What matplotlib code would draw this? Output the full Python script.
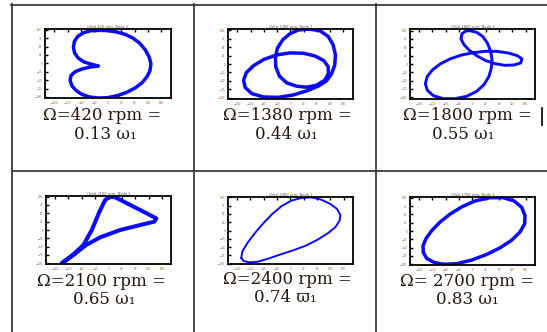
import numpy as np
import matplotlib
matplotlib.use("Agg")
import matplotlib.pyplot as plt
from matplotlib.lines import Line2D
from matplotlib.ticker import MaxNLocator

# Orbit traces (arbitrary displacement units, centred on 0)
orbit_420_x = [-23, 2, 27, 52, 75, 95, 112, 124, 129, 126, 117, 102, 82, 57, 29, -1, -28,
               -55, -78, -96, -108, -113, -110, -98, -78, -53, -28, -48, -71, -88, -99,
               -103, -100, -90, -73, -51, -23]
orbit_420_y = [98, 97, 93, 86, 75, 60, 40, 18, -2, -22, -40, -58, -73, -86, -96, -102, -103,
               -100, -92, -80, -66, -50, -36, -25, -17, -11, -8, -3, 4, 15, 30,
               47, 65, 80, 91, 97, 98]

orbit_1380_x = [54, 89, 114, 129, 136, 134, 124, 109, 84, 49, 9, -36, -81, -116, -136, -141,
                -133, -111, -79, -41, -1, 39, 74, 101, 114, 115, 104, 79, 49, 19, -11, -33,
                -44, -45, -39, -23, -1, 24, 54]
orbit_1380_y = [104, 99, 82, 57, 27, -3, -30, -50, -66, -80, -92, -99, -98, -88, -70, -48,
                -26, -5, 14, 27, 33, 32, 24, 10, -8, -28, -48, -63, -69, -66, -56, -36,
                -8, 20, 47, 72, 90, 101, 104]

orbit_1800_x = [-7, 13, 31, 45, 55, 59, 57, 50, 35, 13, -17, -52, -87, -117, -135, -141,
                -135, -119, -95, -65, -32, 3, 38, 73, 108, 135, 149, 145, 125, 98, 68, 38,
                13, -9, -25, -34, -31, -19, -7]
orbit_1800_y = [100, 95, 83, 63, 38, 13, -12, -37, -62, -82, -97, -104, -104, -95, -79, -59,
                -37, -17, 1, 16, 27, 34, 38, 38, 33, 25, 15, 3, -3, -4, 1, 11,
                25, 41, 58, 75, 91, 99, 100]

orbit_2100_x = [-140, -105, -75, -50, -27, -10, 5, 20, 75, 120, 143, 137, 95, 35, -25, -67,
                -105, -137, -140]
orbit_2100_y = [-100, -73, -45, 0, 55, 90, 100, 98, 70, 47, 35, 25, 15, 0, -22, -45,
                -75, -98, -100]

orbit_2400_x = [-147, -140, -124, -97, -67, -32, 8, 48, 83, 113, 135, 148, 150, 140, 120, 93,
                63, 33, 3, -27, -54, -80, -104, -127, -144, -147]
orbit_2400_y = [-83, -92, -96, -94, -85, -73, -60, -45, -27, -8, 10, 30, 47, 65, 80, 93,
                100, 98, 90, 73, 50, 23, -5, -35, -63, -83]

orbit_2700_x = [-87, -115, -137, -147, -148, -139, -122, -97, -67, -32, 8, 53, 93, 125, 148,
                158, 157, 143, 118, 83, 43, -2, -47, -87]
orbit_2700_y = [-101, -95, -83, -65, -45, -23, 1, 27, 51, 73, 91, 101, 101, 91, 72,
                47, 22, -3, -28, -51, -71, -88, -99, -101]

speeds = ["420", "1380", "1800", "2100", "2400", "2700"]
line1 = ["\u03a9=420 rpm =", "\u03a9=1380 rpm =", "\u03a9=1800 rpm =",
         "\u03a9=2100 rpm =", "\u03a9=2400 rpm =", "\u03a9= 2700 rpm ="]
line2 = ["0.13 \u03c9\u2081", "0.44 \u03c9\u2081", "0.55 \u03c9\u2081",
         "0.65 \u03c9\u2081", "0.74 \u03d6\u2081", "0.83 \u03c9\u2081"]

orbits = [(orbit_420_x, orbit_420_y), (orbit_1380_x, orbit_1380_y),
          (orbit_1800_x, orbit_1800_y), (orbit_2100_x, orbit_2100_y),
          (orbit_2400_x, orbit_2400_y), (orbit_2700_x, orbit_2700_y)]

W, H = 547, 332
fig = plt.figure(figsize=(W / 100, H / 100), dpi=100)
fig.patch.set_facecolor("white")

def px(x, y):
    return x / W, 1 - y / H

# table rules
rule = dict(color="#3c3c3c", lw=1.3, transform=fig.transFigure)
for (x0, y0), (x1, y1) in [((11, 4.5), (547, 4.5)), ((12, 4), (12, 332)),
                           ((194, 4), (194, 332)), ((376, 4), (376, 332)),
                           ((12, 171), (547, 171))]:
    a, b = px(x0, y0)
    c, d = px(x1, y1)
    fig.add_artist(Line2D([a, c], [b, d], **rule))

# axes boxes in pixels: left, top, right, bottom
boxes = [(45, 29, 171, 98), (228, 29, 353, 99), (410, 29, 535, 99),
         (46, 196, 171, 264), (228, 197, 353, 264), (410, 197, 535, 265)]
limits = [((-188, 189), (-103, 102)), ((-188, 189), (-104, 104)), ((-187, 188), (-105, 105)),
          ((-187, 187), (-102, 102)), ((-187, 188), (-101, 101)), ((-187, 188), (-103, 103))]
widths = [2.5, 2.5, 2.1, 2.9, 1.4, 2.5]
text_pos = [((102, 116), (105, 135)), ((287, 116), (286, 135)), ((467, 116), (463, 135)),
            ((101, 282), (104, 300)), ((287, 280), (285, 298)), ((467, 281), (467, 300))]

serif = ["DejaVu Serif"]
for i, (ox, oy) in enumerate(orbits):
    l, t, r, b = boxes[i]
    ax = fig.add_axes([l / W, 1 - b / H, (r - l) / W, (b - t) / H])
    ax.plot(ox, oy, color="#0a0aff", lw=widths[i], solid_joinstyle="round",
            solid_capstyle="round")
    ax.set_xlim(*limits[i][0])
    ax.set_ylim(*limits[i][1])
    ax.xaxis.set_major_locator(MaxNLocator(12))
    ax.yaxis.set_major_locator(MaxNLocator(9))
    ax.tick_params(direction="in", length=2.5, width=1.0, top=True, left=True,
                   bottom=False, right=False, labelsize=2.0, labelcolor="#a06030", pad=2)
    for s in ax.spines.values():
        s.set_linewidth(1.3)
    ax.set_title("Orbit %s rpm, Node 1" % speeds[i], fontsize=2.6, color="#555555", pad=0.5)
    (x1, y1), (x2, y2) = text_pos[i]
    fig.text(*px(x1, y1), line1[i], ha="center", va="center", fontsize=12,
             family=serif, color="#24160c")
    fig.text(*px(x2, y2), line2[i], ha="center", va="center", fontsize=12,
             family=serif, color="#24160c")

# text cursor next to the third label
a, b = px(542, 108)
c, d = px(542, 125)
fig.add_artist(Line2D([a, c], [b, d], color="black", lw=1.2, transform=fig.transFigure))

fig.savefig("out.png", dpi=100)
